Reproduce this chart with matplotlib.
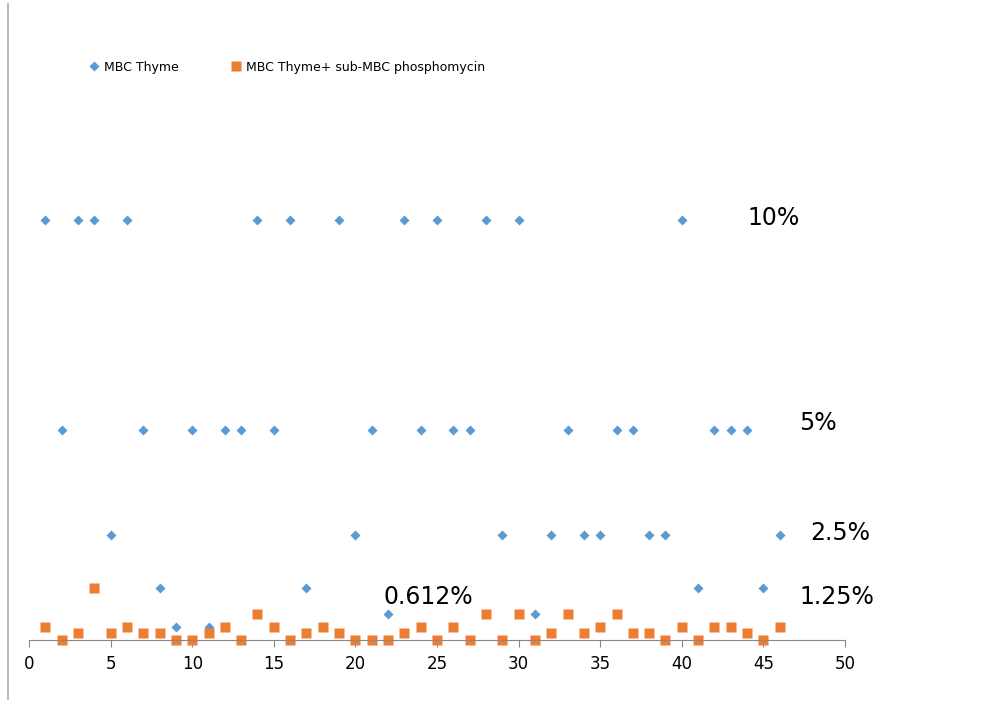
import numpy as np
import matplotlib.pyplot as plt
from matplotlib.lines import Line2D

# sample number (x) and concentration in % (y)
x_vals = list(range(1, 47))
thyme = [10, 5, 10, 10, 2.5, 10, 5, 1.25, 0.312, 5,
         0.312, 5, 5, 10, 5, 10, 1.25, 0.312, 10, 2.5,
         5, 0.612, 10, 5, 10, 5, 5, 10, 2.5, 10,
         0.612, 2.5, 5, 2.5, 2.5, 5, 5, 2.5, 2.5, 10,
         1.25, 5, 5, 5, 1.25, 2.5]
thyme_phos = [0.312, 0, 0.156, 1.25, 0.156, 0.312, 0.156, 0.156, 0, 0,
              0.156, 0.312, 0, 0.612, 0.312, 0, 0.156, 0.312, 0.156, 0,
              0, 0, 0.156, 0.312, 0, 0.312, 0, 0.612, 0, 0.612,
              0, 0.156, 0.612, 0.156, 0.312, 0.612, 0.156, 0.156, 0, 0.312,
              0, 0.312, 0.312, 0.156, 0, 0.312]
level_labels = ["10%", "5%", "2.5%", "1.25%", "0.612%"]
level_pos = [(44.0, 10.05), (47.2, 5.17), (47.9, 2.55), (47.2, 1.02), (21.7, 1.02)]

fig = plt.figure(figsize=(10.04, 7.06), dpi=100)
ax = fig.add_axes([29/1004, 1 - 640/706, 816/1004, 588/706])

ax.plot(x_vals, thyme, 'D', color='#5B9BD5', ms=4.6, mec='none',
        label='MBC Thyme', clip_on=False)
ax.plot(x_vals, thyme_phos, 's', color='#ED7D31', ms=7.6, mec='none',
        label='MBC Thyme+ sub-MBC phosphomycin', clip_on=False)

for lab, (tx, ty) in zip(level_labels, level_pos):
    ax.text(tx, ty, lab, fontsize=17, ha='left', va='center', color='black')

ax.set_xlim(0, 50)
ax.set_ylim(0, 14)
ax.set_xticks(np.arange(0, 51, 5))
ax.set_yticks([])
for s in ['top', 'right', 'left']:
    ax.spines[s].set_visible(False)
ax.spines['bottom'].set_color('#888888')
ax.tick_params(axis='x', direction='out', length=5, color='#888888',
               labelsize=12, pad=6)

fig.legend(loc='center left', bbox_to_anchor=(77/1004, 1 - 67/706), ncol=2,
           frameon=False, fontsize=9, handletextpad=0.3, columnspacing=4.0,
           handlelength=1.0)

# chart frame edge on the left
fig.add_artist(Line2D([8/1004, 8/1004], [0.01, 0.995], color='#aaaaaa', lw=1.2))

fig.savefig('out.png', dpi=100)
